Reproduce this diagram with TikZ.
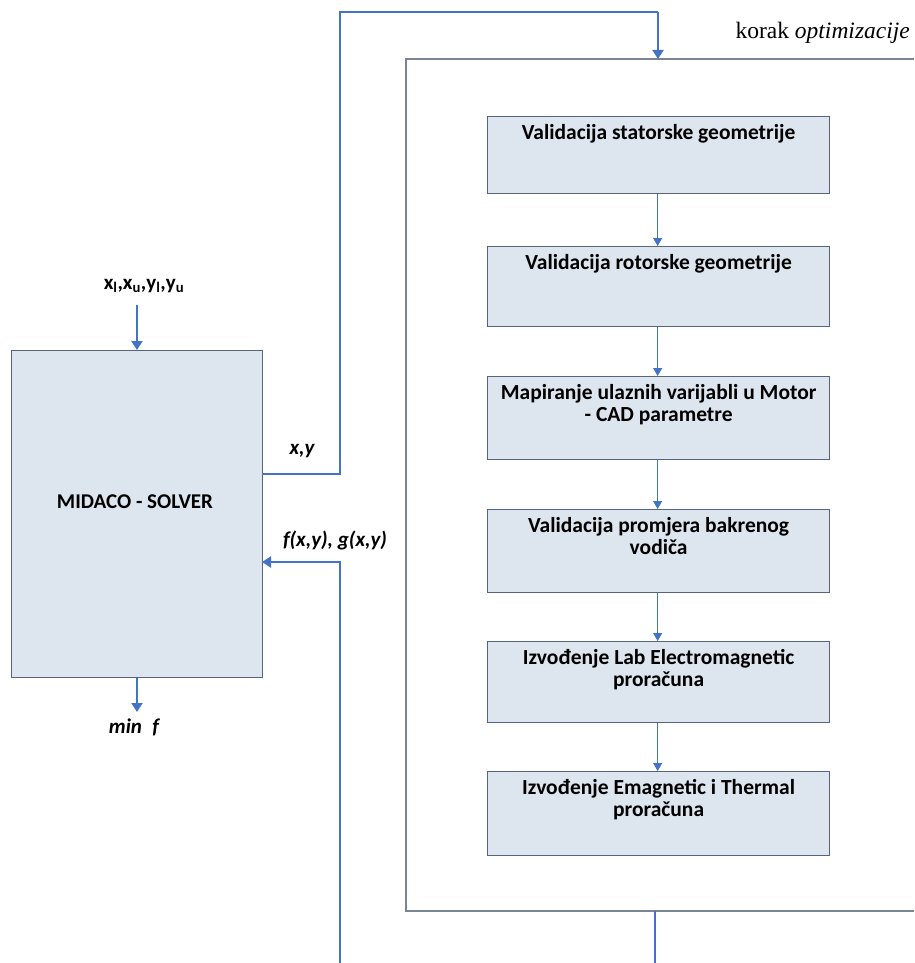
\documentclass[tikz,border=0pt]{standalone}
\usepackage{fontspec}
\setmainfont{Carlito}
\newfontfamily\serifpart{Liberation Serif}
\usetikzlibrary{arrows.meta,calc}
\definecolor{boxfill}{HTML}{DDE5EF}
\definecolor{boxborder}{HTML}{56657D}
\definecolor{flow}{HTML}{4472C4}
\definecolor{framegray}{HTML}{7A8494}
\tikzset{
  procbox/.style={draw=boxborder, fill=boxfill, line width=1.3pt, anchor=north west, inner sep=0pt, minimum width=342pt},
  boxtext/.style={anchor=north, align=center, font=\fontsize{21.5}{22.5}\selectfont\bfseries, inner sep=0pt},
  lbl/.style={font=\fontsize{21}{22}\selectfont\bfseries\itshape, inner sep=0pt},
  flowline/.style={draw=flow, line width=2pt},
  thinflow/.style={draw=flow, line width=1pt, -{Triangle[width=9pt,length=8pt]}},
  flowarrow/.style={draw=flow, line width=2pt, -{Triangle[width=11pt,length=9pt]}},
}
\begin{document}
\begin{tikzpicture}[x=1pt,y=-1pt]
\useasboundingbox (0,0) rectangle (914,963);

% outer frame (open on the right, cut by the picture border)
\draw[framegray, line width=1.3pt] (914,59) -- (406,59) -- (406,911) -- (914,911);
\node[anchor=south east, inner sep=0pt, font=\fontsize{23.5}{24}\selectfont\serifpart] (korak) at (910,44) {korak \textit{optimizacije}};

% left solver box
\node[procbox, minimum width=251pt, minimum height=327pt] (solver) at (11,350) {};
\node[font=\fontsize{21}{22}\selectfont\bfseries, inner sep=0pt] (solvertxt) at (135,502) {MIDACO - SOLVER};

% process boxes
\node[procbox, minimum height=77pt] (b1) at (487,116) {};
\node[procbox, minimum height=80pt] (b2) at (487,246) {};
\node[procbox, minimum height=83pt] (b3) at (487,376) {};
\node[procbox, minimum height=83pt] (b4) at (487,509) {};
\node[procbox, minimum height=81pt] (b5) at (487,641) {};
\node[procbox, minimum height=84pt] (b6) at (487,771) {};

\node[boxtext] (t1) at ([yshift=-8pt]b1.north) {Validacija statorske geometrije};
\node[boxtext] (t2) at ([yshift=-8pt]b2.north) {Validacija rotorske geometrije};
\node[boxtext] (t3) at ([yshift=-8pt]b3.north) {Mapiranje ulaznih varijabli u Motor\\- CAD parametre};
\node[boxtext] (t4) at ([yshift=-8pt]b4.north) {Validacija promjera bakrenog\\vodiča};
\node[boxtext] (t5) at ([yshift=-8pt]b5.north) {Izvođenje Lab Electromagnetic\\proračuna};
\node[boxtext] (t6) at ([yshift=-8pt]b6.north) {Izvođenje Emagnetic i Thermal\\proračuna};

\foreach \a/\b in {b1/b2,b2/b3,b3/b4,b4/b5,b5/b6}
  \draw[thinflow] ([xshift=-1pt]\a.south) -- ([xshift=-1pt]\b.north);

% inputs / outputs of solver
\node[font=\fontsize{21}{22}\selectfont\bfseries, inner sep=0pt] (bounds) at (144,286) {x\textsubscript{l},x\textsubscript{u},y\textsubscript{l},y\textsubscript{u}};
\coordinate (inA) at (137,305);
\draw[flowarrow] (inA) -- (inA |- solver.north);
\coordinate (outB) at (137,712);
\draw[flowarrow] (outB |- solver.south) -- (outB);
\node[lbl] (minf) at (134,727) {min\enspace f};

% loop to the optimisation step
\coordinate (xyout) at (262,474);
\coordinate (c1) at (340,474);
\coordinate (c2) at (340,12);
\coordinate (c3) at (658,12);
\coordinate (c4) at (658,59);
\draw[flowline] (xyout) -- (c1) -- (c2) -- (c3);
\draw[flowarrow] (c3) -- (c4);
\node[lbl] (xylbl) at (302,451) {x,y};

% return from the optimisation step
\coordinate (r0) at (655,911);
\coordinate (r1) at (655,963);
\draw[flowline] (r0) -- (r1);
\coordinate (q0) at (340,963);
\coordinate (q1) at (340,562);
\coordinate (q2) at (262,562);
\draw[flowarrow] (q0) -- (q1) -- (q2);
\node[lbl] (fglbl) at (335,540) {f(x,y), g(x,y)};
\end{tikzpicture}
\end{document}
